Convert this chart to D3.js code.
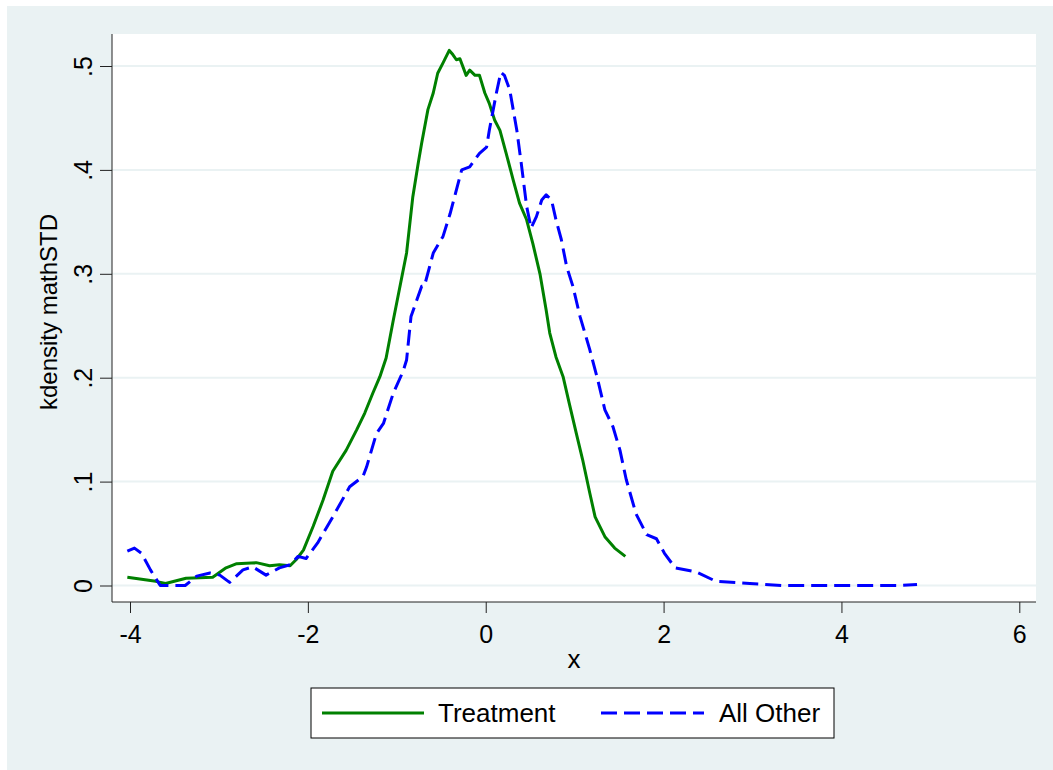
<!DOCTYPE html>
<head>
<meta charset="utf-8">
<style>
body {
  margin: 0;
  background: #fff;
}
svg {
  display: block;
  font-family: "Liberation Sans", Arial, sans-serif;
}
.tick text {
  font-size: 25px;
  fill: #000;
}
.axis path, .axis line {
  stroke: #222;
}
</style>
</head>
<body>
<svg width="1053" height="770"></svg>
<script src="https://cdn.jsdelivr.net/npm/d3@7"></script>
<script>
// kdensity estimates
var treatX = [-4.03,-3.71,-3.6,-3.37,-3.07,-2.92,-2.8,-2.58,-2.43,-2.32,-2.2,-2.13,-2.05,-1.94,-1.83,
  -1.72,-1.57,-1.45,-1.36,-1.27,-1.19,-1.12,-1.04,-0.89,-0.82,-0.76,-0.72,-0.65,-0.59,-0.54,
  -0.48,-0.41,-0.37,-0.33,-0.29,-0.22,-0.18,-0.12,-0.07,-0.01,0.04,0.10,0.16,0.23,0.31,
  0.38,0.46,0.53,0.61,0.68,0.72,0.79,0.87,0.94,1.02,1.09,1.17,1.23,1.34,1.45,1.57];
var treatY = [0.008,0.004,0.002,0.007,0.008,0.017,0.021,0.022,0.019,0.02,0.019,0.025,0.034,0.057,0.082,
  0.11,0.13,0.15,0.166,0.185,0.201,0.219,0.255,0.32,0.374,0.406,0.426,0.458,0.474,0.493,
  0.503,0.515,0.511,0.506,0.507,0.491,0.496,0.491,0.491,0.474,0.464,0.448,0.438,0.416,0.39,
  0.368,0.352,0.329,0.30,0.265,0.243,0.22,0.201,0.175,0.146,0.121,0.089,0.066,0.047,0.036,0.028];

var otherX = [-4.03,-3.95,-3.87,-3.77,-3.66,-3.38,-3.25,-3.1,-2.99,-2.88,-2.73,-2.62,-2.47,-2.32,-2.2,
  -2.11,-2.02,-1.89,-1.72,-1.53,-1.38,-1.34,-1.23,-1.15,-1.04,-0.93,-0.89,-0.84,-0.72,-0.69,
  -0.59,-0.48,-0.40,-0.27,-0.18,-0.07,0.01,0.04,0.12,0.17,0.21,0.27,0.35,0.40,0.46,
  0.51,0.57,0.63,0.68,0.74,0.79,0.85,0.91,0.98,1.06,1.17,1.26,1.34,1.43,1.51,
  1.58,1.69,1.81,1.92,2.01,2.13,2.37,2.59,2.97,3.34,4.0,4.66,4.85];
var otherY = [0.033,0.036,0.031,0.015,0.0,0.0,0.009,0.012,0.01,0.003,0.015,0.018,0.01,0.017,0.02,
  0.028,0.026,0.041,0.066,0.095,0.105,0.114,0.146,0.156,0.185,0.206,0.217,0.259,0.288,0.288,
  0.32,0.336,0.358,0.40,0.403,0.416,0.422,0.438,0.474,0.494,0.491,0.477,0.438,0.406,0.365,
  0.344,0.355,0.371,0.376,0.371,0.352,0.333,0.307,0.288,0.259,0.227,0.198,0.169,0.153,0.13,
  0.102,0.069,0.049,0.045,0.031,0.017,0.013,0.004,0.002,0.0,0.0,0.0,0.001];

var xTicks = [-4, -2, 0, 2, 4, 6];
var yTicks = [0, 0.1, 0.2, 0.3, 0.4, 0.5];
var seriesNames = ["Treatment", "All Other"];

var svg = d3.select("svg");

// outer graph region
svg.append("rect")
    .attr("x", 7).attr("y", 6)
    .attr("width", 1046).attr("height", 764)
    .attr("fill", "#eaf2f3");

var plot = {left: 112, top: 34, right: 1036, bottom: 602};

svg.append("rect")
    .attr("x", plot.left).attr("y", plot.top)
    .attr("width", plot.right - plot.left).attr("height", plot.bottom - plot.top)
    .attr("fill", "#fff");

var x = d3.scaleLinear().domain([-4, 6]).range([130, 1019.3]);
var y = d3.scaleLinear().domain([0, 0.5]).range([585.5, 66]);

// grid lines
svg.append("g")
  .selectAll("line")
  .data(yTicks)
  .enter().append("line")
    .attr("x1", plot.left).attr("x2", plot.right)
    .attr("y1", function(d) { return y(d); })
    .attr("y2", function(d) { return y(d); })
    .attr("stroke", "#eaf2f3")
    .attr("stroke-width", 2);

// y axis
var yAxis = svg.append("g")
    .attr("class", "axis")
    .attr("transform", "translate(" + plot.left + ",0)")
    .call(d3.axisLeft(y).tickValues(yTicks).tickSize(12).tickPadding(0)
      .tickFormat(function(d) { return d === 0 ? "0" : d3.format(".1f")(d).replace(/^0/, ""); }));
yAxis.select(".domain").attr("d", "M0," + plot.top + "V" + plot.bottom);
yAxis.selectAll(".tick text")
    .attr("x", null).attr("dy", null)
    .attr("text-anchor", "middle")
    .attr("transform", "translate(-20,0) rotate(-90)");

// x axis
var xAxis = svg.append("g")
    .attr("class", "axis")
    .attr("transform", "translate(0," + plot.bottom + ")")
    .call(d3.axisBottom(x).tickValues(xTicks).tickSize(11).tickPadding(0)
      .tickFormat(d3.format("d")));
xAxis.select(".domain").attr("d", "M" + plot.left + ",0H" + plot.right);
xAxis.selectAll(".tick text")
    .attr("dy", null)
    .attr("y", 41);
xAxis.selectAll(".tick text").text(function(d) { return String(d); });

// axis titles
svg.append("text")
    .attr("transform", "translate(57,312) rotate(-90)")
    .attr("text-anchor", "middle")
    .style("font-size", "24px")
    .text("kdensity mathSTD");

svg.append("text")
    .attr("x", 574).attr("y", 668)
    .attr("text-anchor", "middle")
    .style("font-size", "26px")
    .text("x");

// curves
var line = d3.line()
    .x(function(d) { return x(d[0]); })
    .y(function(d) { return y(d[1]); });

var treat = d3.zip(treatX, treatY);
var other = d3.zip(otherX, otherY);

svg.append("path")
    .datum(treat)
    .attr("d", line)
    .attr("fill", "none")
    .attr("stroke", "#008000")
    .attr("stroke-width", 3)
    .attr("stroke-linejoin", "round");

svg.append("path")
    .datum(other)
    .attr("d", line)
    .attr("fill", "none")
    .attr("stroke", "#0000ff")
    .attr("stroke-width", 3)
    .attr("stroke-dasharray", "16,7")
    .attr("stroke-linejoin", "round");

// legend
var legend = svg.append("g");
legend.append("rect")
    .attr("x", 311).attr("y", 688)
    .attr("width", 523).attr("height", 50)
    .attr("fill", "#fff")
    .attr("stroke", "#000")
    .attr("stroke-width", 1);

var keys = [
  {name: seriesNames[0], x1: 322, x2: 424, tx: 438, color: "#008000", dash: null},
  {name: seriesNames[1], x1: 601, x2: 704, tx: 719, color: "#0000ff", dash: "16,7"}
];
keys.forEach(function(k) {
  legend.append("line")
      .attr("x1", k.x1).attr("x2", k.x2)
      .attr("y1", 713).attr("y2", 713)
      .attr("stroke", k.color)
      .attr("stroke-width", 3)
      .attr("stroke-dasharray", k.dash);
  legend.append("text")
      .attr("x", k.tx).attr("y", 722)
      .style("font-size", "26px")
      .text(k.name);
});
</script>
</body>
